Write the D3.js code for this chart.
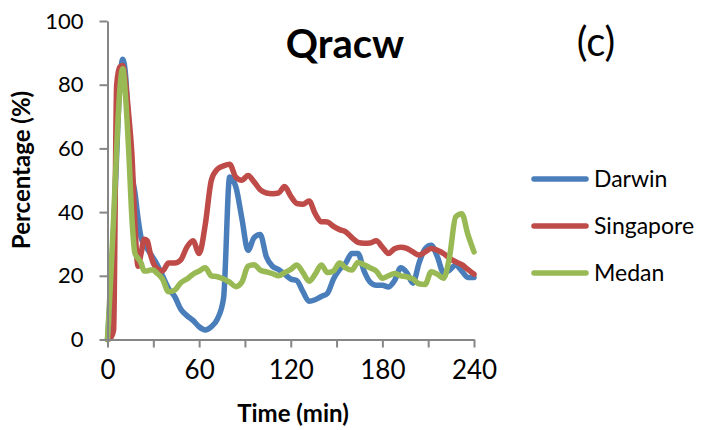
<!DOCTYPE html>
<html>
<head>
<meta charset="utf-8">
<script src="https://cdn.jsdelivr.net/npm/d3@7"></script>
<style>
  body { margin: 0; background: #ffffff; }
  text { font-family: "Lato", "Open Sans", sans-serif; fill: #000000; }
</style>
</head>
<body>
<div id="canvas"></div>
<script>
"use strict"

/* Time points (min) shared by the three series */
let times = [0, 2, 4, 6, 8, 10, 12, 14, 16, 18, 20, 22, 24, 26, 28, 30,
  32, 36, 40, 44, 48, 52, 56, 60, 64, 68, 72, 76, 80, 84, 88, 92, 96, 100,
  104, 108, 112, 116, 120, 124, 128, 132, 136, 140, 144, 148, 152, 156, 160,
  164, 168, 172, 176, 180, 184, 188, 192, 196, 200, 204, 208, 212, 216, 220,
  224, 228, 232, 236, 240];

/* Percentage (%) */
let darwin = [0, 15, 35, 58, 80, 88, 82, 64, 52, 46, 38, 32, 30, 28.5, 27, 25.5,
  24, 20, 16, 13.5, 9.5, 7.5, 6, 4, 3, 4, 6.5, 13, 51, 48, 38, 28, 32, 33,
  26, 23, 22, 20.5, 19, 18.5, 15, 12, 12.5, 13.5, 14.5, 19, 22, 24, 27,
  27, 21.5, 18, 17, 17, 16.5, 18.5, 22.5, 21, 17.7, 24, 28.5, 29.6, 26, 21,
  21.8, 23.4, 21.5, 19.5, 19.5];

let singapore = [0, 0.5, 3, 80, 85.5, 86, 80, 70, 58, 36, 23, 27, 31.5, 31, 27, 24,
  22.5, 21.5, 24, 24, 25, 29, 31, 27, 36, 50, 53.5, 54.5, 55, 51, 50, 51.5, 49.5, 47,
  46, 45.8, 46, 48, 45, 42.7, 42.5, 43.5, 39.5, 37, 36.9, 35.5, 34.5, 33.8, 32,
  30.5, 30.2, 30.3, 31, 29, 27, 28.5, 29, 28.6, 27.5, 26.5, 27.5, 28.6, 28, 27,
  25.5, 24.4, 23.5, 22, 20.5];

let medan = [0, 18, 38, 60, 78, 85, 75, 58, 38, 27, 25.5, 24, 21.5, 21.5, 21.8, 21.8,
  21, 19, 15, 15.5, 17.8, 19, 20.5, 21.5, 22.5, 20, 19.7, 19, 18, 16.6, 18, 23, 23.5, 21.8,
  21.2, 20.7, 20, 21, 22, 23.4, 21, 18.3, 20.5, 23.4, 21, 21.5, 24, 22.5, 21.8,
  24.2, 23.5, 22.5, 21.5, 19.2, 20, 20.7, 20, 19.7, 19, 17.5, 17.3, 21.3, 20.5, 19.2,
  26, 38.5, 39.5, 33, 27.5];

let seriesNames = ["Darwin", "Singapore", "Medan"];
let seriesColors = ["#4a7ebb", "#be4b48", "#98b954"];
let xTicks = [0, 30, 60, 90, 120, 150, 180, 210, 240];
let xLabels = [0, 60, 120, 180, 240];
let yTicks = [0, 20, 40, 60, 80, 100];

/*  Variable that enables you to "talk to" your SVG drawing canvas. */
let drawing = d3.select("#canvas")
    .append("svg")
    .attr("width", 703)
    .attr("height", 430);

/* Plot area */
let plotLeft = 107.5;
let plotRight = 474;
let plotTop = 21;
let plotBottom = 339.5;
let axisColor = "#868686";

let xScale = d3.scaleLinear().domain([0, 240]).range([plotLeft, plotRight]);
let yScale = d3.scaleLinear().domain([0, 100]).range([plotBottom, plotTop]);

/* Series lines */
let allSeries = [darwin, singapore, medan];
let lineMaker = d3.line()
    .x((d, i) => xScale(times[i]))
    .y(d => yScale(d))
    .curve(d3.curveMonotoneX);

let lines = drawing.append("g");
allSeries.forEach(function (values, k) {
  lines.append("path")
    .attr("d", lineMaker(values))
    .attr("fill", "none")
    .attr("stroke", seriesColors[k])
    .attr("stroke-width", 5.5)
    .attr("stroke-linejoin", "round")
    .attr("stroke-linecap", "round");
});

/* Y axis */
let yAxis = drawing.append("g")
    .attr("transform", "translate(" + plotLeft + ",0)")
    .call(d3.axisLeft(yScale).tickValues(yTicks).tickSize(8).tickPadding(16).tickSizeOuter(0));
yAxis.select(".domain").attr("stroke", axisColor).attr("stroke-width", 2);
yAxis.selectAll(".tick line").attr("stroke", axisColor).attr("stroke-width", 2);
yAxis.selectAll(".tick text")
    .attr("font-family", "Lato")
    .attr("font-size", 22)
    .attr("fill", "#000");

/* X axis: ticks every 30, labels every 60 */
let xAxis = drawing.append("g")
    .attr("transform", "translate(0," + plotBottom + ")")
    .call(d3.axisBottom(xScale).tickValues(xTicks).tickSize(8).tickPadding(13).tickSizeOuter(0)
      .tickFormat(d => xLabels.includes(d) ? d : ""));
xAxis.select(".domain").attr("stroke", axisColor).attr("stroke-width", 2);
xAxis.selectAll(".tick line").attr("stroke", axisColor).attr("stroke-width", 2);
xAxis.selectAll(".tick text")
    .attr("font-family", "Lato")
    .attr("font-size", 26)
    .attr("fill", "#000");

/* Axis titles */
drawing.append("text")
    .attr("x", 293)
    .attr("y", 422)
    .attr("text-anchor", "middle")
    .attr("font-size", 24)
    .attr("font-weight", "bold")
    .text("Time (min)");

drawing.append("text")
    .attr("transform", "translate(30,170) rotate(-90)")
    .attr("text-anchor", "middle")
    .attr("font-size", 24)
    .attr("font-weight", "bold")
    .text("Percentage (%)");

/* Chart title and panel letter */
drawing.append("text")
    .attr("x", 345)
    .attr("y", 58)
    .attr("text-anchor", "middle")
    .attr("font-size", 40)
    .attr("font-weight", "bold")
    .text("Qracw");

drawing.append("text")
    .attr("x", 596)
    .attr("y", 56)
    .attr("text-anchor", "middle")
    .attr("font-size", 40)
    .text("(c)");

/* Legend */
let legendY = d3.scalePoint().domain(seriesNames).range([179, 273]);
let legend = drawing.append("g");
seriesNames.forEach(function (name, k) {
  legend.append("line")
    .attr("x1", 534)
    .attr("x2", 586)
    .attr("y1", legendY(name))
    .attr("y2", legendY(name))
    .attr("stroke", seriesColors[k])
    .attr("stroke-width", 5.5)
    .attr("stroke-linecap", "round");
  legend.append("text")
    .attr("x", 594)
    .attr("y", legendY(name))
    .attr("dy", "0.36em")
    .attr("font-size", 23)
    .text(name);
});
</script>
</body>
</html>
